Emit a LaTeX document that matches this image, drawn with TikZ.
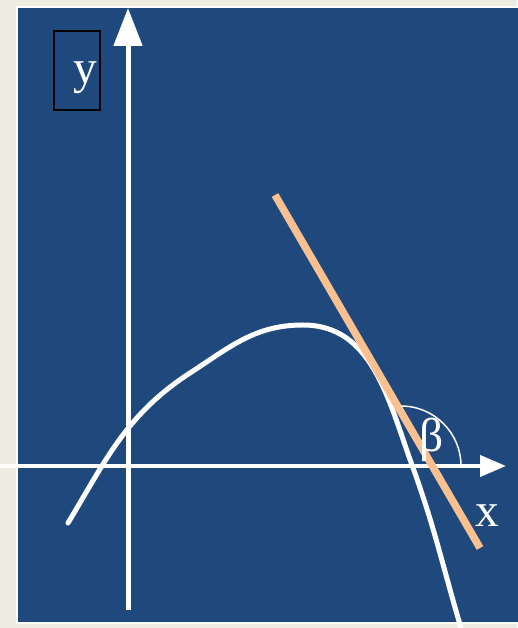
\documentclass[tikz,border=0pt]{standalone}
\usepackage{fontspec}
\setmainfont{Liberation Serif}
\usetikzlibrary{arrows.meta}
\definecolor{slideblue}{HTML}{1F497D}
\definecolor{slidetan}{HTML}{EEECE1}
\definecolor{tanorange}{HTML}{FAC090}

\begin{document}
\begin{tikzpicture}[
  x=0.02cm, y=0.02cm,
  axis/.style={draw=white, line width=0.09cm},
  curve/.style={draw=white, line width=0.1cm, line cap=round},
  tangent/.style={draw=tanorange, line width=0.15cm},
  lbl/.style={text=white, font=\fontsize{27}{30}\selectfont, inner sep=0pt, anchor=base}
]
  \useasboundingbox (0,0) rectangle (517,628);
  \fill[slidetan] (0,0) rectangle (517,628);
  \filldraw[fill=slideblue, draw=white, line width=0.04cm] (17,5) rectangle (520,621);

  \node[draw=black, line width=0.03cm, minimum width=0.92cm, minimum height=1.58cm, inner sep=0pt] (ybox) at (77,557.5) {};
  \node[lbl] (ylab) at (85,544) {y};

  \draw[axis, line width=0.1cm, -{Triangle[length=0.76cm,width=0.56cm]}] (128,18) -- (128,620);
  \draw[axis, line width=0.08cm, -{Triangle[length=0.52cm,width=0.42cm]}] (0,162) -- (506,162);

  \draw[curve] (68,105) to[out=59, in=213] (190,255) to[out=33, in=180] (303,303)
    to[out=0, in=110] (412,163) to[out=-70, in=106.5] (461,0);

  \coordinate (ttop) at (275,433);
  \coordinate (tbot) at (480,80);
  \draw[tangent] (ttop) -- (tbot);

  \draw[white, line width=0.03cm] (461,162) arc[start angle=0, end angle=90, radius=1.2cm];
  \node[lbl] (blab) at (432,176) {β};
  \node[lbl] (xlab) at (487,101) {x};
\end{tikzpicture}
\end{document}
